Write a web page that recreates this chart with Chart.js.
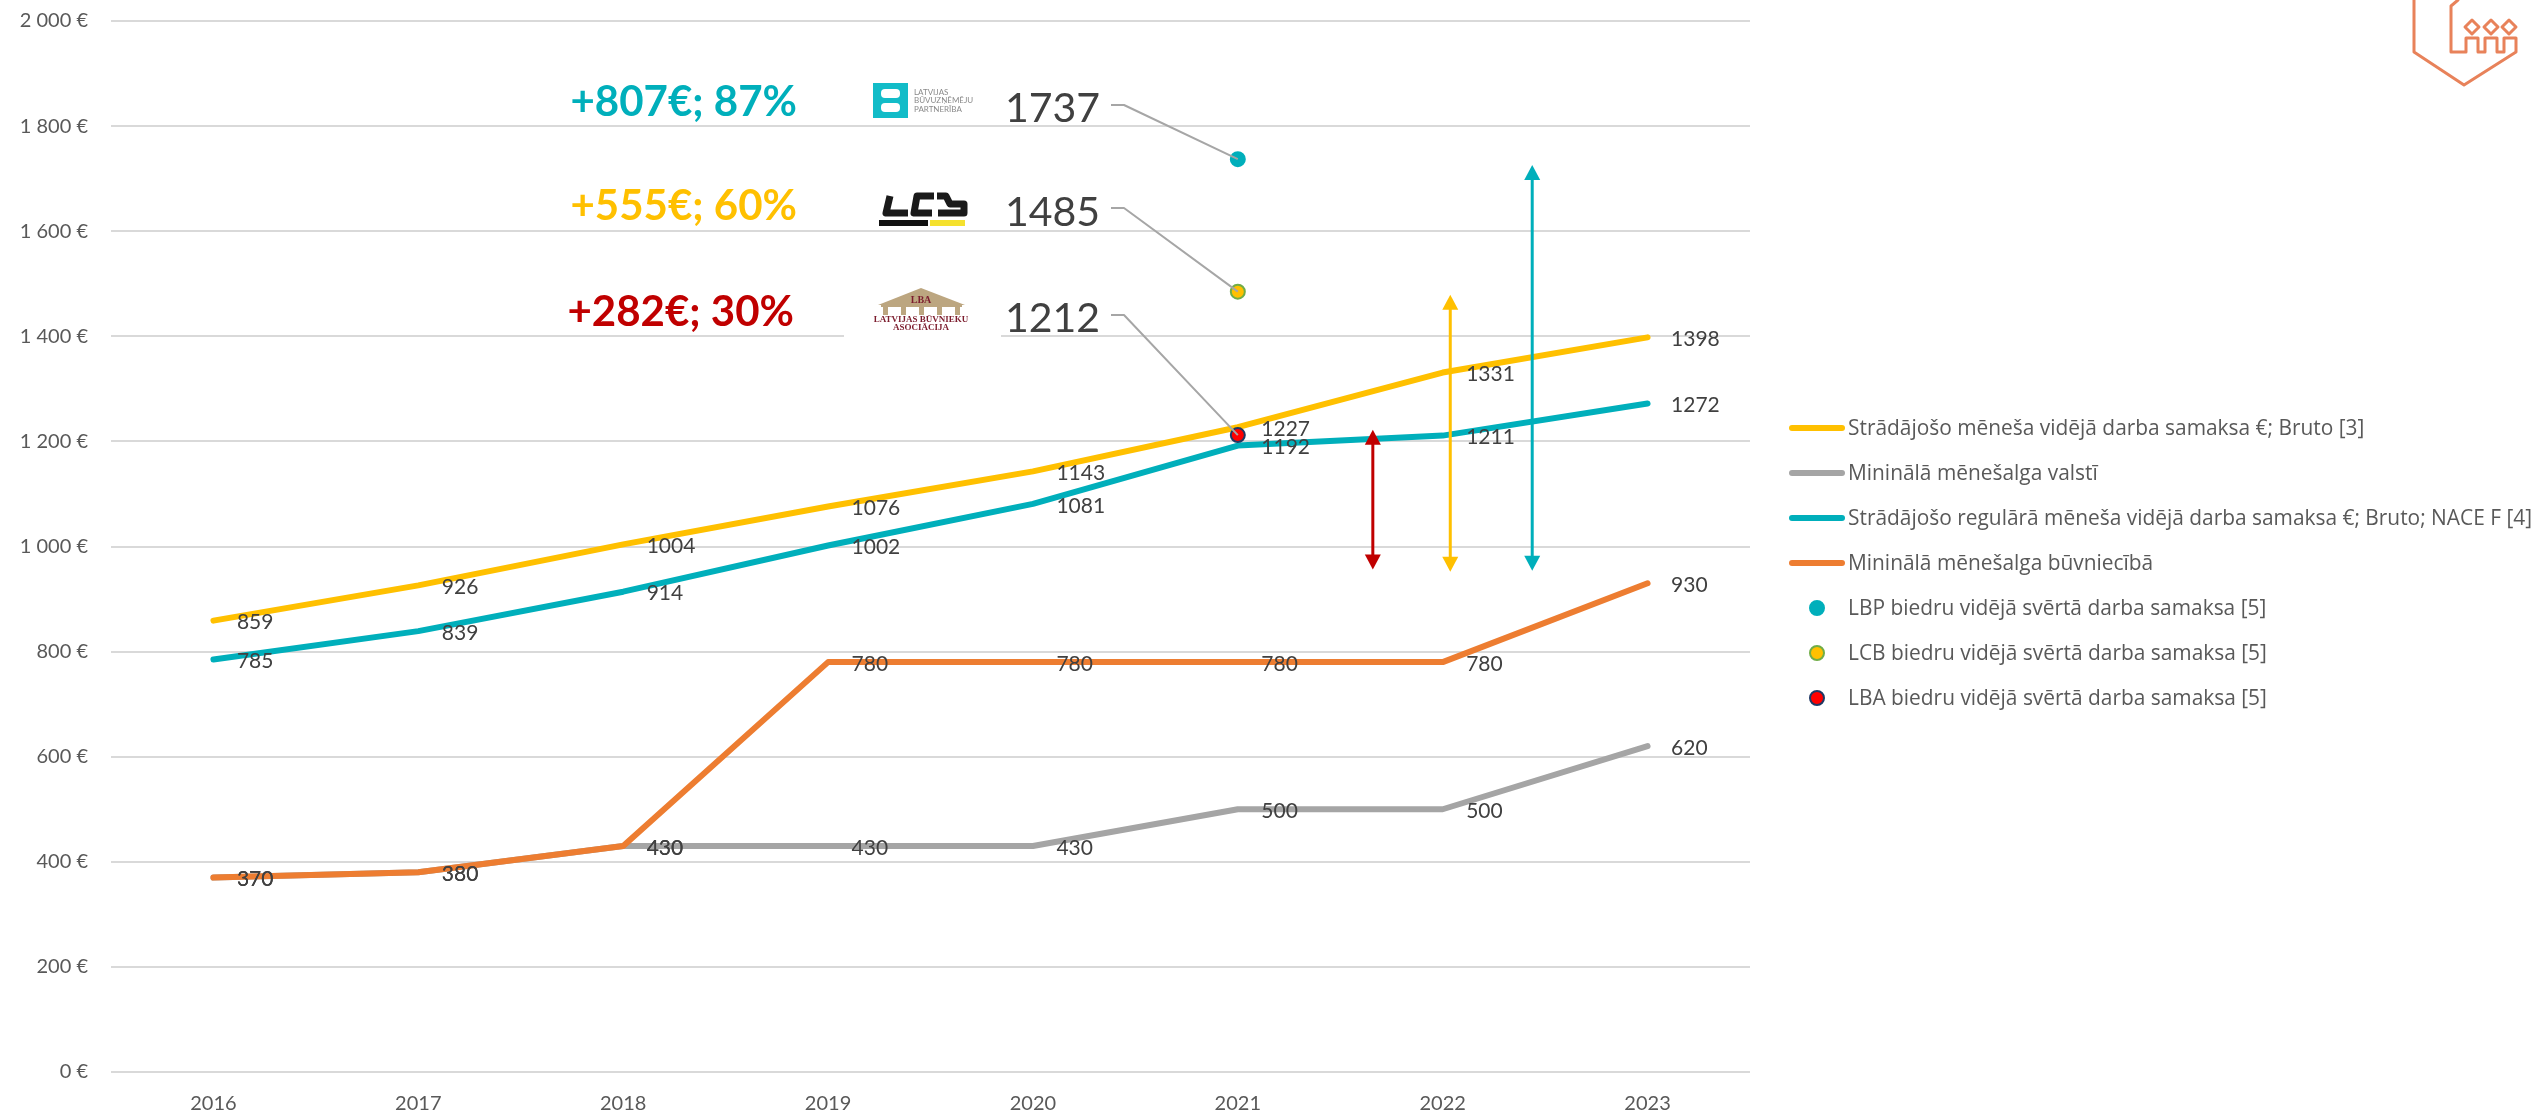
<!DOCTYPE html>
<html lang="lv">
<head>
<meta charset="utf-8">
<title>Darba samaksa būvniecībā</title>
<script src="https://cdn.jsdelivr.net/npm/chart.js@4/dist/chart.umd.min.js"></script>
<style>
  html, body { margin: 0; padding: 0; background: #fff; }
  #wrap { position: relative; width: 2542px; height: 1114px; overflow: hidden; }
  #legend { position: absolute; left: 0; top: 0; }
  .row { position: absolute; left: 1789px; height: 30px; line-height: 30px; white-space: nowrap; }
  .row .txt { position: absolute; left: 59px; top: -1px; color: #595959; font: 20.9px "Open Sans", sans-serif; line-height: 30px; }
  .row .ln { position: absolute; left: 0; top: 12px; width: 56px; height: 6px; border-radius: 3px; }
  .row .dot { position: absolute; left: 20px; top: 7px; width: 16px; height: 16px; border-radius: 50%; box-sizing: border-box; }
</style>
</head>
<body>
<div id="wrap">
  <canvas id="wageChart" width="2542" height="1114"></canvas>
  <div id="legend"></div>
</div>
<script>
// Data
const years = ['2016', '2017', '2018', '2019', '2020', '2021', '2022', '2023'];
const avgGross = [859, 926, 1004, 1076, 1143, 1227, 1331, 1398];
const minWageState = [370, 380, 430, 430, 430, 500, 500, 620];
const avgRegularNace = [785, 839, 914, 1002, 1081, 1192, 1211, 1272];
const minWageConstruction = [370, 380, 430, 780, 780, 780, 780, 930];
const lbpValues = [null, null, null, null, null, 1737, null, null];
const lcbValues = [null, null, null, null, null, 1485, null, null];
const lbaValues = [null, null, null, null, null, 1212, null, null];

const seriesNames = [
    'Strādājošo mēneša vidējā darba samaksa €; Bruto [3]',
    'Mininālā mēnešalga valstī',
    'Strādājošo regulārā mēneša vidējā darba samaksa €; Bruto; NACE F [4]',
    'Mininālā mēnešalga būvniecībā',
    'LBP biedru vidējā svērtā darba samaksa [5]',
    'LCB biedru vidējā svērtā darba samaksa [5]',
    'LBA biedru vidējā svērtā darba samaksa [5]'
];

// Difference callouts
const calloutTexts = ['+807€; 87%', '+555€; 60%', '+282€; 30%'];
const calloutColors = ['#00AFBB', '#FFC000', '#C00000'];
const calloutValues = [1737, 1485, 1212];

// Double arrows, in axis units (category index, euro)
const arrowIndex = [5.659, 6.037, 6.437];
const arrowTop = [1222, 1479, 1726];
const arrowBottom = [956, 952, 954];
const arrowColors = ['#C00000', '#FFC000', '#00AFBB'];

const TEAL = '#00AFBB', YELLOW = '#FFC000', GREY = '#A5A5A5', ORANGE = '#ED7D31';
const LABEL_FONT = '21px Lato, sans-serif';

function lineSet(label, data, color, order) {
    return {
        label, data, order,
        borderColor: color,
        backgroundColor: color,
        borderWidth: 6,
        borderCapStyle: 'round',
        borderJoinStyle: 'round',
        pointRadius: 0,
        tension: 0
    };
}

function dotSet(label, data, fill, border, order) {
    return {
        label, data, order,
        showLine: false,
        pointRadius: 7,
        pointBackgroundColor: fill,
        pointBorderColor: border,
        pointBorderWidth: 2
    };
}

// Value labels to the right of each line point
const valueLabels = {
    id: 'valueLabels',
    afterDatasetsDraw(chart) {
        const ctx = chart.ctx;
        ctx.save();
        ctx.font = LABEL_FONT;
        ctx.fillStyle = '#404040';
        ctx.textAlign = 'left';
        ctx.textBaseline = 'middle';
        [0, 1, 2, 3].forEach(i => {
            chart.getDatasetMeta(i).data.forEach((pt, j) => {
                ctx.fillText(chart.data.datasets[i].data[j], pt.x + 23.5, pt.y + 2);
            });
        });
        ctx.restore();
    }
};

function drawArrow(ctx, x, yTop, yBottom, color) {
    ctx.strokeStyle = color;
    ctx.fillStyle = color;
    ctx.lineWidth = 3;
    ctx.beginPath();
    ctx.moveTo(x, yTop + 10);
    ctx.lineTo(x, yBottom - 10);
    ctx.stroke();
    ctx.beginPath();
    ctx.moveTo(x, yTop);
    ctx.lineTo(x + 8, yTop + 15);
    ctx.lineTo(x - 8, yTop + 15);
    ctx.closePath();
    ctx.fill();
    ctx.beginPath();
    ctx.moveTo(x, yBottom);
    ctx.lineTo(x + 8, yBottom - 15);
    ctx.lineTo(x - 8, yBottom - 15);
    ctx.closePath();
    ctx.fill();
}

function drawLogos(ctx) {
    // LBP
    ctx.fillStyle = '#12BCC8';
    ctx.fillRect(873, 83, 35, 35);
    ctx.fillStyle = '#fff';
    ctx.beginPath(); ctx.roundRect(881, 89, 19, 9, 4); ctx.fill();
    ctx.beginPath(); ctx.roundRect(881, 103, 19, 9, 4); ctx.fill();
    ctx.fillStyle = '#8a8a8a';
    ctx.font = '8px Lato, sans-serif';
    ctx.textAlign = 'left';
    ctx.textBaseline = 'middle';
    ctx.fillText('LATVIJAS', 914, 92);
    ctx.fillText('BŪVUZŅĒMĒJU', 914, 100.5);
    ctx.fillText('PARTNERĪBA', 914, 109);

    // LCB
    ctx.strokeStyle = '#1a1a1a';
    ctx.lineWidth = 7;
    ctx.lineJoin = 'round';
    ctx.beginPath();
    ctx.moveTo(890, 196); ctx.lineTo(886, 213); ctx.lineTo(908, 213);
    ctx.moveTo(934, 196); ctx.lineTo(917, 196); ctx.lineTo(914, 213); ctx.lineTo(932, 213);
    ctx.moveTo(937, 196); ctx.lineTo(946, 196); ctx.lineTo(950, 204); ctx.lineTo(964, 204); ctx.lineTo(964, 213); ctx.lineTo(938, 213);
    ctx.stroke();
    ctx.fillStyle = '#111';
    ctx.fillRect(879, 220, 49, 6);
    ctx.fillStyle = '#F5E12E';
    ctx.fillRect(930, 220, 35, 6);

    // LBA, its white picture box hides the 1400 gridline
    ctx.fillStyle = '#fff';
    ctx.fillRect(844, 284, 157, 58);
    ctx.fillStyle = '#BCA680';
    ctx.beginPath();
    ctx.moveTo(921, 288); ctx.lineTo(965, 305); ctx.lineTo(878, 305);
    ctx.closePath();
    ctx.fill();
    ctx.fillRect(881, 305, 81, 2);
    [885, 903, 921, 939, 957].forEach(x => ctx.fillRect(x - 2, 307, 5, 8));
    ctx.fillStyle = '#7C1D2E';
    ctx.textAlign = 'center';
    ctx.font = 'bold 10px "Liberation Serif", serif';
    ctx.fillText('LBA', 921, 300);
    ctx.font = 'bold 9px "Liberation Serif", serif';
    ctx.fillText('LATVIJAS BŪVNIEKU', 921, 320);
    ctx.fillText('ASOCIĀCIJA', 921, 328);
}

function drawCornerMark(ctx) {
    ctx.save();
    ctx.strokeStyle = '#E8825A';
    ctx.lineWidth = 3;
    ctx.lineJoin = 'round';
    ctx.lineCap = 'round';
    ctx.beginPath();
    ctx.moveTo(2414, -2); ctx.lineTo(2414, 52); ctx.lineTo(2464, 85); ctx.lineTo(2516, 52); ctx.lineTo(2516, 38);
    ctx.lineTo(2504, 38); ctx.lineTo(2504, 52); ctx.lineTo(2497, 52); ctx.lineTo(2497, 38);
    ctx.lineTo(2485, 38); ctx.lineTo(2485, 52); ctx.lineTo(2478, 52); ctx.lineTo(2478, 38);
    ctx.lineTo(2466, 38); ctx.lineTo(2466, 52); ctx.lineTo(2451, 52); ctx.lineTo(2451, 6); ctx.lineTo(2458, 0);
    ctx.stroke();
    [2472, 2491, 2509].forEach(x => {
        ctx.beginPath();
        ctx.moveTo(x, 20); ctx.lineTo(x + 7, 27); ctx.lineTo(x, 34); ctx.lineTo(x - 7, 27);
        ctx.closePath();
        ctx.stroke();
    });
    ctx.restore();
}

// Everything that sat on top of the chart in the slide
const overlays = {
    id: 'overlays',
    afterDraw(chart) {
        const ctx = chart.ctx;
        const xs = chart.scales.x, ys = chart.scales.y;
        ctx.save();
        drawLogos(ctx);

        // Callouts with leader lines to the member points
        const calloutY = [102, 206, 312];
        const numberY = [109, 213, 319];
        const leaderY = [105, 208, 315];
        calloutTexts.forEach((text, i) => {
            ctx.textBaseline = 'middle';
            ctx.textAlign = 'right';
            ctx.font = 'bold 42px Lato, sans-serif';
            ctx.fillStyle = calloutColors[i];
            ctx.fillText(text, i === 2 ? 794 : 797, calloutY[i]);
            ctx.font = '41px Lato, sans-serif';
            ctx.fillStyle = '#404040';
            ctx.fillText(calloutValues[i], 1100, numberY[i]);
            const pt = chart.getDatasetMeta(4 + i).data[5];
            ctx.strokeStyle = '#A6A6A6';
            ctx.lineWidth = 2;
            ctx.beginPath();
            ctx.moveTo(1111, leaderY[i]);
            ctx.lineTo(1124, leaderY[i]);
            ctx.lineTo(pt.x, pt.y);
            ctx.stroke();
        });

        arrowIndex.forEach((idx, i) => {
            drawArrow(ctx, xs.getPixelForValue(idx), ys.getPixelForValue(arrowTop[i]), ys.getPixelForValue(arrowBottom[i]), arrowColors[i]);
        });
        drawCornerMark(ctx);
        ctx.restore();
    }
};

const ctx = document.getElementById('wageChart').getContext('2d');
const wageChart = new Chart(ctx, {
    type: 'line',
    data: {
        labels: years,
        datasets: [
            lineSet(seriesNames[0], avgGross, YELLOW, 7),
            lineSet(seriesNames[1], minWageState, GREY, 6),
            lineSet(seriesNames[2], avgRegularNace, TEAL, 5),
            lineSet(seriesNames[3], minWageConstruction, ORANGE, 4),
            dotSet(seriesNames[4], lbpValues, TEAL, TEAL, 3),
            dotSet(seriesNames[5], lcbValues, YELLOW, '#70AD47', 2),
            dotSet(seriesNames[6], lbaValues, '#FF0000', '#1F3864', 1)
        ]
    },
    options: {
        responsive: false,
        animation: false,
        layout: { padding: { left: 0, right: 792, top: 21, bottom: 0 } },
        plugins: { legend: { display: false }, tooltip: { enabled: false } },
        scales: {
            x: {
                offset: true,
                afterFit: s => { s.height = 42; },
                grid: { display: false },
                border: { display: false },
                ticks: { color: '#595959', font: { family: 'Lato, sans-serif', size: 20 }, padding: 12, maxRotation: 0 }
            },
            y: {
                min: 0,
                max: 2000,
                // tick padding would otherwise push the plot top down
                afterFit: s => { s.width = 111; s.paddingTop = 0; s.paddingBottom = 0; },
                border: { display: false },
                grid: { color: '#D9D9D9', lineWidth: 2, drawTicks: false },
                ticks: {
                    stepSize: 200,
                    color: '#595959',
                    font: { family: 'Lato, sans-serif', size: 20 },
                    padding: 23,
                    callback: v => String(v).replace(/\B(?=(\d{3})+$)/g, ' ') + ' €'
                }
            }
        }
    },
    plugins: [valueLabels, overlays]
});

// Legend, same order as the datasets
const legendBox = document.getElementById('legend');
wageChart.data.datasets.forEach((ds, i) => {
    const row = document.createElement('div');
    row.className = 'row';
    row.style.top = (413 + i * 45) + 'px';
    const mark = document.createElement('span');
    if (i < 4) {
        mark.className = 'ln';
        mark.style.background = ds.borderColor;
    } else {
        mark.className = 'dot';
        mark.style.background = ds.pointBackgroundColor;
        mark.style.border = '2px solid ' + ds.pointBorderColor;
    }
    const txt = document.createElement('span');
    txt.className = 'txt';
    txt.textContent = ds.label;
    row.append(mark, txt);
    legendBox.append(row);
});
</script>
</body>
</html>
